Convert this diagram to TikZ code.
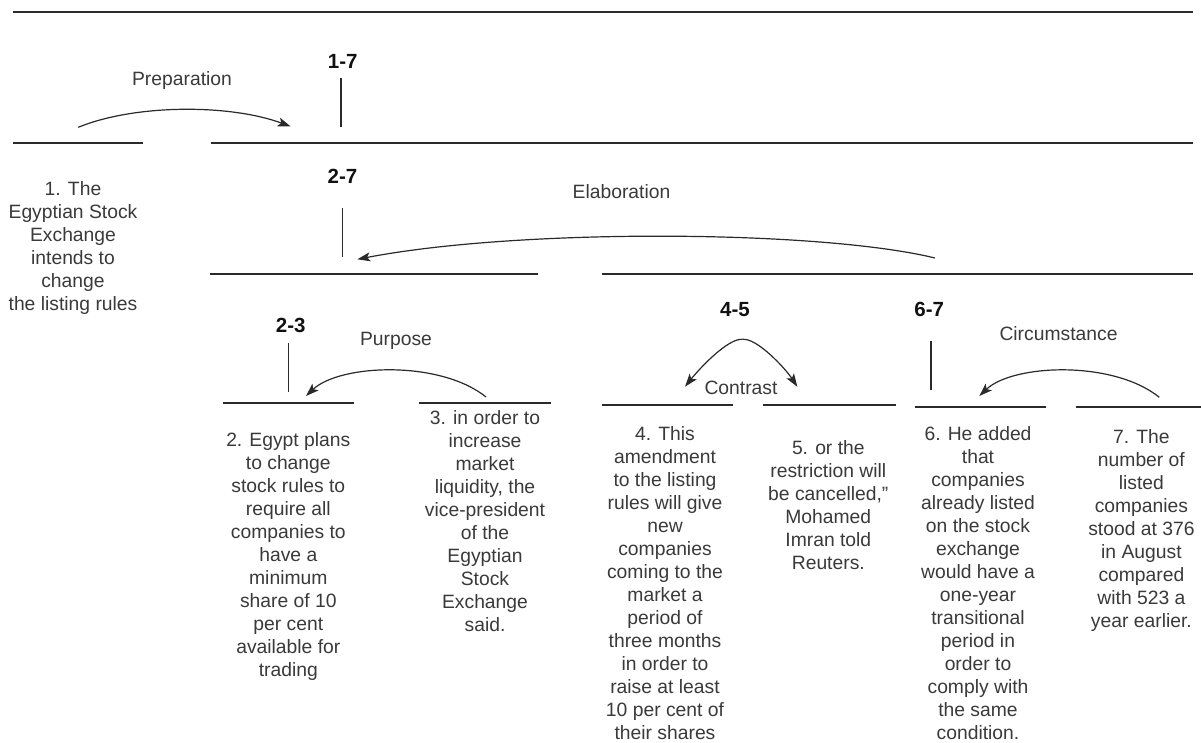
\documentclass[tikz,border=0pt]{standalone}
\usepackage{fontspec}
\setmainfont{Liberation Sans}
\usetikzlibrary{arrows.meta}

\definecolor{txt}{HTML}{3A3A3A}
\definecolor{ink}{HTML}{2A2A2A}
\definecolor{lbl}{HTML}{111111}

\newcommand\edufont{\fontsize{19.3}{23}\selectfont}
\newcommand\spanfont{\fontsize{20.5}{24}\selectfont\bfseries}

\tikzset{
  rstline/.style={draw=ink, line width=1.9pt},
  tickline/.style={draw=ink, line width=1.3pt},
  edutext/.style={font=\edufont, text=txt, align=center, inner sep=0pt, anchor=north},
  spanlabel/.style={font=\spanfont, text=lbl, inner sep=0pt, anchor=center},
  rellabel/.style={font=\edufont, text=txt, inner sep=0pt, anchor=base},
  relarrow/.style={draw=ink, line width=1.2pt, -{Stealth[length=13pt,width=9pt,inset=3pt]}},
}

\begin{document}
\begin{tikzpicture}[x=1pt,y=-1pt]
\useasboundingbox (0,0) rectangle (1201,743);
\fill[white] (0,0) rectangle (1201,743);

% ---- horizontal rules of the RST tree ----
\draw[rstline] (13,12) -- (1193,12);
\draw[rstline] (13.4,142.7) -- (143.3,142.7);
\draw[rstline] (210.5,142.7) -- (1193,142.7);
\draw[rstline] (210,274) -- (538,274);
\draw[rstline] (601.7,274) -- (1193,274);
\draw[rstline] (222.7,403.3) -- (354,403.3);
\draw[rstline] (419.3,403.3) -- (550.7,403.3);
\draw[rstline] (601.7,405) -- (733,405);
\draw[rstline] (763,405) -- (896,405);
\draw[rstline] (915,406.7) -- (1045.7,406.7);
\draw[rstline] (1076,406.7) -- (1201,406.7);

% ---- span labels ----
\node[spanlabel] (s17) at (342.7,61.7) {1-7};
\node[spanlabel] (s27) at (342.5,176.7) {2-7};
\node[spanlabel] (s23) at (290.7,325) {2-3};
\node[spanlabel] (s45) at (735,309.5) {4-5};
\node[spanlabel] (s67) at (929.3,309.5) {6-7};

% ---- ticks joining span labels to their rules ----
\coordinate (t17a) at (341,78);      \coordinate (t17b) at (341,127);
\coordinate (t27a) at (342.7,208.3); \coordinate (t27b) at (342.7,257.3);
\coordinate (t23a) at (288.3,343);   \coordinate (t23b) at (288.3,391.7);
\coordinate (t67a) at (931,341);     \coordinate (t67b) at (931,390);
\draw[tickline] (t17a) -- (t17b);
\draw[tickline] (t27a) -- (t27b);
\draw[tickline] (t23a) -- (t23b);
\draw[tickline] (t67a) -- (t67b);

% ---- elementary discourse units ----
\node[edutext] (e1) at (73,179.1) {\strut 1. The\\Egyptian Stock\\Exchange\\intends to\\change\\the listing rules};
\node[edutext] (e2) at (288.3,430.1) {\strut 2. Egypt plans\\to change\\stock rules to\\require all\\companies to\\have a\\minimum\\share of 10\\per cent\\available for\\trading};
\node[edutext] (e3) at (485,408.1) {\strut 3. in order to\\increase\\market\\liquidity, the\\vice-president\\of the\\Egyptian\\Stock\\Exchange\\said.};
\node[edutext] (e4) at (665,424.6) {\strut 4. This\\amendment\\to the listing\\rules will give\\new\\companies\\coming to the\\market a\\period of\\three months\\in order to\\raise at least\\10 per cent of\\their shares};
\node[edutext] (e5) at (828.3,438.1) {\strut 5. or the\\restriction will\\be cancelled,\char34\\Mohamed\\Imran told\\Reuters.};
\node[edutext] (e6) at (978,424.6) {\strut 6. He added\\that\\companies\\already listed\\on the stock\\exchange\\would have a\\one-year\\transitional\\period in\\order to\\comply with\\the same\\condition.};
\node[edutext] (e7) at (1141.4,426.8) {\strut 7. The\\number of\\listed\\companies\\stood at 376\\in August\\compared\\with 523 a\\year earlier.};

% ---- relation names ----
\node[rellabel] (rprep) at (182,85.2) {Preparation};
\node[rellabel] (relab) at (621.5,198.6) {Elaboration};
\node[rellabel] (rpurp) at (396,345.9) {Purpose};
\node[rellabel] (rcont) at (741,394.9) {Contrast};
\node[rellabel] (rcirc) at (1058.5,340.2) {Circumstance};

% ---- relation arrows (satellite to nucleus) ----
\coordinate (aprep1) at (78.3,127.3);  \coordinate (aprep2) at (290.7,126.5);
\coordinate (aelab1) at (935,258);     \coordinate (aelab2) at (357.3,259.3);
\coordinate (apurp1) at (486,397);     \coordinate (apurp2) at (306,396);
\coordinate (acirc1) at (1159.3,397.3); \coordinate (acirc2) at (979.3,396);
\coordinate (acont0) at (742.7,339.3);
\coordinate (acontL) at (685,386.7);   \coordinate (acontR) at (797.3,386.7);

\draw[relarrow] (aprep1) .. controls (135,104) and (230,104) .. (aprep2);
\draw[relarrow] (aelab1) .. controls (820,230) and (520,228) .. (aelab2);
\draw[relarrow] (apurp1) .. controls (440,360) and (340,364) .. (apurp2);
\draw[relarrow] (acirc1) .. controls (1113,360) and (1013,364) .. (acirc2);
\draw[relarrow] (acont0) .. controls (728,338) and (700,368) .. (acontL);
\draw[relarrow] (acont0) .. controls (757,338) and (785,368) .. (acontR);
\end{tikzpicture}
\end{document}
